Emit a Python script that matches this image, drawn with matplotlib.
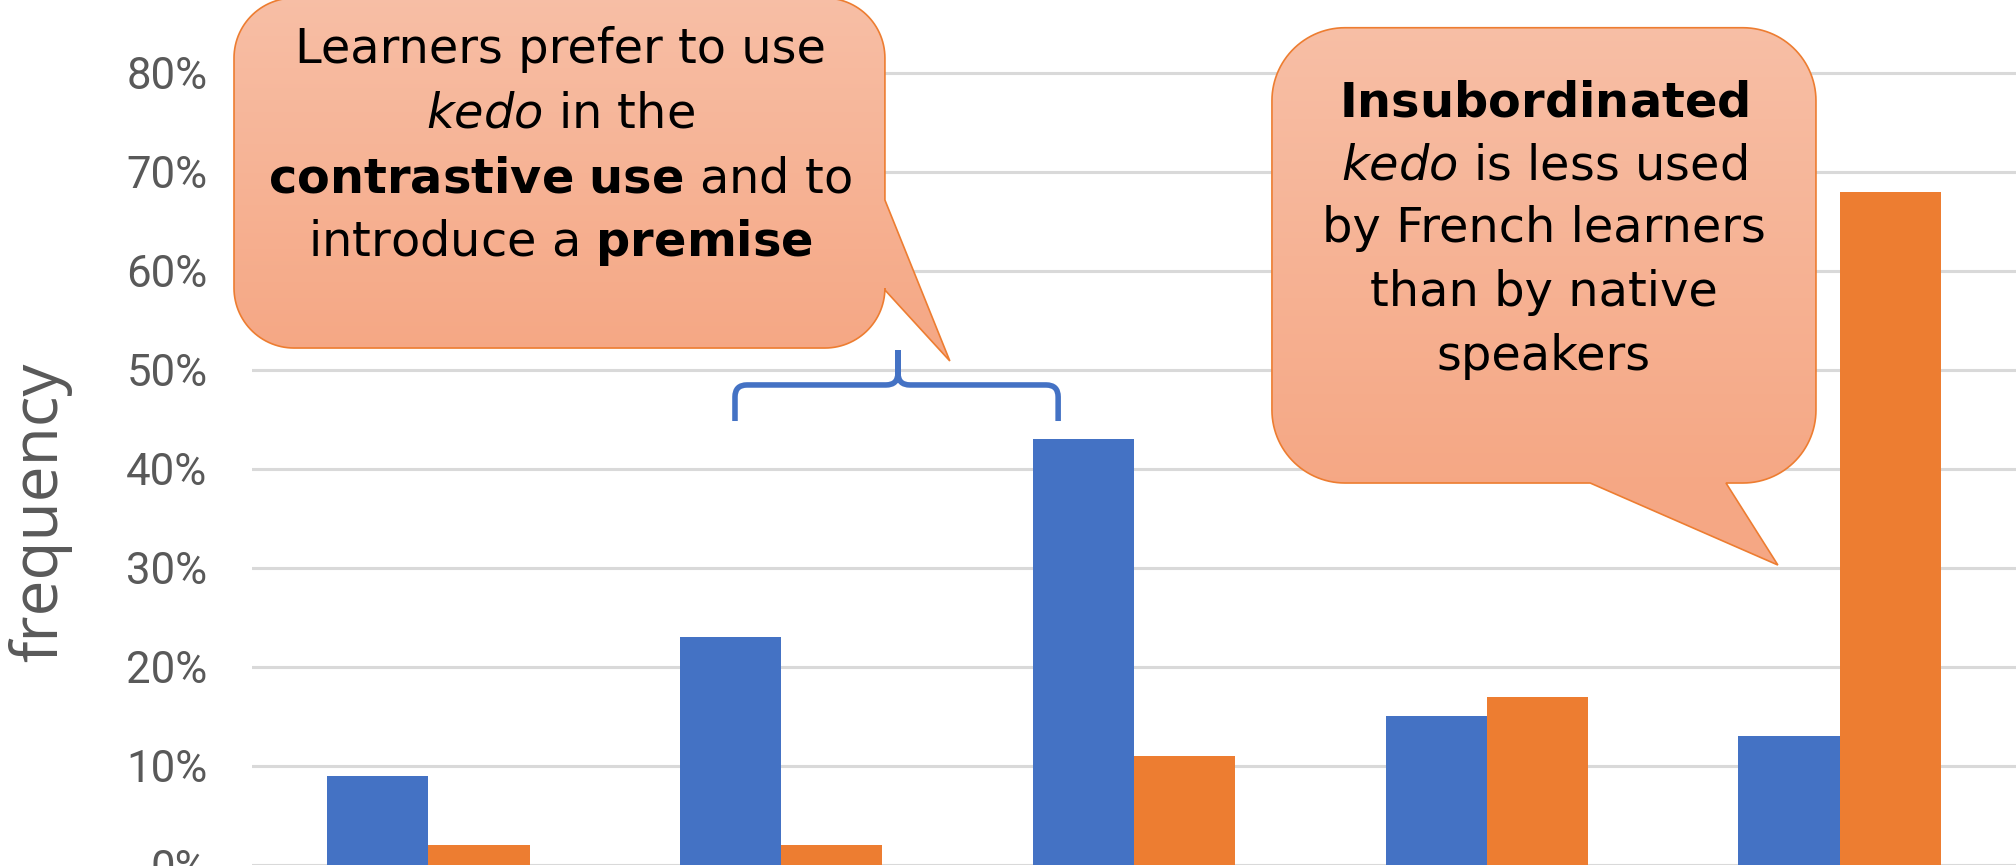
import numpy as np
import matplotlib
matplotlib.use("Agg")
import matplotlib.pyplot as plt
import matplotlib.colors as mcolors
from matplotlib.path import Path
from matplotlib.patches import Polygon, PathPatch
from matplotlib.collections import PolyCollection
from matplotlib.ticker import PercentFormatter

# ---------------- data ----------------
categories = ["use 1", "use 2", "use 3", "use 4", "use 5"]
learners = [0.09, 0.23, 0.43, 0.15, 0.13]   # blue series
natives = [0.02, 0.02, 0.11, 0.17, 0.68]    # orange series
yticks = [0.0, 0.1, 0.2, 0.3, 0.4, 0.5, 0.6, 0.7, 0.8]

callout1_lines = [
    "Learners prefer to use",
    r"$\mathit{kedo}$ in the",
    r"$\mathbf{contrastive}$ $\mathbf{use}$ and to",
    r"introduce a $\mathbf{premise}$",
]
callout2_lines = [
    r"$\mathbf{Insubordinated}$",
    r"$\mathit{kedo}$ is less used",
    "by French learners",
    "than by native",
    "speakers",
]

# ---------------- style ----------------
plt.rcParams["font.family"] = ["DejaVu Sans"]
plt.rcParams["mathtext.fontset"] = "custom"
plt.rcParams["mathtext.rm"] = "DejaVu Sans"
plt.rcParams["mathtext.it"] = "DejaVu Sans:italic"
plt.rcParams["mathtext.bf"] = "DejaVu Sans:bold"

BLUE = "#4472C4"
ORANGE = "#ED7D31"
GRID = "#D9D9D9"
GRAY = "#595959"
FILL_TOP = "#F7BEA5"
FILL_BOT = "#F5A784"

W, H = 2016, 866
fig = plt.figure(figsize=(W / 100, H / 100), dpi=100)
ax = fig.add_axes([252 / W, 1 / H, 1 - 252 / W, 865 / H])

x = np.arange(len(categories))
bw = 0.287
ax.bar(x - bw / 2, learners, bw, color=BLUE, zorder=2, label="French learners")
ax.bar(x + bw / 2, natives, bw, color=ORANGE, zorder=2, label="Native speakers")

ax.set_xlim(-0.5, len(categories) - 0.5)
ax.set_ylim(0, 0.8734)
ax.set_yticks(yticks)
ax.yaxis.set_major_formatter(PercentFormatter(1.0, decimals=0))
ax.set_xticks(x)
ax.set_xticklabels([])
ax.yaxis.grid(True, color=GRID, lw=2.2)
ax.set_axisbelow(True)
for s in ax.spines.values():
    s.set_visible(False)
ax.tick_params(axis="y", length=0, pad=32, labelsize=31.5, labelcolor=GRAY)
ax.tick_params(axis="x", length=0, labelbottom=False)
for lab in ax.get_yticklabels():
    lab.set_fontfamily("Roboto")

ax.set_ylabel("frequency", fontsize=46, color=GRAY, fontfamily="Open Sans", va="center")
ax.yaxis.set_label_coords(-0.1202, 0.408)


# ---------------- callouts ----------------
def callout(x0, x1, y0, y1, rx, ry, side, tail):
    n = 30

    def arc(cx, cy, a0, a1):
        th = np.radians(np.linspace(a0, a1, n))
        return np.column_stack([cx + rx * np.cos(th), cy + ry * np.sin(th)])

    parts = [arc(x0 + rx, y1 - ry, 180, 90), arc(x1 - rx, y1 - ry, 90, 0)]
    if side == "right":
        parts.append(np.array(tail))
    parts.append(arc(x1 - rx, y0 + ry, 0, -90))
    if side == "bottom":
        parts.append(np.array(tail))
    parts.append(arc(x0 + rx, y0 + ry, -90, -180))
    verts = np.vstack(parts)

    poly = Polygon(verts, closed=True, facecolor="none", edgecolor=ORANGE,
                   lw=1.2, zorder=6, clip_on=False)
    ax.add_patch(poly)

    xmin, xmax = verts[:, 0].min() - 0.05, verts[:, 0].max() + 0.05
    ymin, ymax = verts[:, 1].min(), verts[:, 1].max()
    ns = 90
    ed = np.linspace(ymin, ymax, ns + 1)
    step = (ymax - ymin) / ns
    ct = np.array(mcolors.to_rgb(FILL_TOP))
    cb = np.array(mcolors.to_rgb(FILL_BOT))
    strips, cols = [], []
    for i in range(ns):
        ya, yb = ed[i] - step * 0.3, ed[i + 1] + step * 0.3
        strips.append([(xmin, ya), (xmax, ya), (xmax, yb), (xmin, yb)])
        t = np.clip((0.5 * (ed[i] + ed[i + 1]) - y0) / (y1 - y0), 0, 1)
        cols.append(cb + (ct - cb) * t)
    pc = PolyCollection(strips, facecolors=cols, edgecolors="none",
                        linewidths=0, antialiaseds=False, zorder=5)
    ax.add_collection(pc, autolim=False)
    pc.set_clip_path(poly)
    pc.set_clip_box(None)


PX = 352.8   # px per category unit
PY = 990.4   # px per 1.0 on y

# callout 1 (tail on right side, pointing to brace)
callout(-0.551, 1.294, 0.522, 0.8754, 60 / PX, 60 / PY, "right",
        [(1.294, 0.6714), (1.478, 0.5089), (1.294, 0.5806)])
# callout 2 (tail at bottom, pointing to the last group)
callout(2.391, 3.933, 0.3857, 0.8454, 73 / PX, 73 / PY, "bottom",
        [(3.678, 0.3857), (3.825, 0.3029), (3.293, 0.3857)])

TXT = 34.5
for s, yb in zip(callout1_lines, [0.8098, 0.7447, 0.6788, 0.6149]):
    ax.text(0.373, yb, s, ha="center", va="baseline", fontsize=TXT,
            color="black", zorder=7, clip_on=False)
for s, yb in zip(callout2_lines, [0.7555, 0.6922, 0.6286, 0.5644, 0.4998]):
    ax.text(3.162, yb, s, ha="center", va="baseline", fontsize=TXT,
            color="black", zorder=7, clip_on=False)

# ---------------- brace ----------------
bx0, bx1, bxm = 0.869, 1.785, 1.331
by_end, by_bar, by_tip = 0.4483, 0.4847, 0.520
cx, cy = 12 / PX, 12 / PY
M, L, C = Path.MOVETO, Path.LINETO, Path.CURVE3
bverts = [(bx0, by_end), (bx0, by_bar - cy), (bx0, by_bar), (bx0 + cx, by_bar),
          (bxm - cx, by_bar), (bxm, by_bar), (bxm, by_bar + cy), (bxm, by_tip),
          (bxm, by_tip), (bxm, by_bar + cy), (bxm, by_bar), (bxm + cx, by_bar),
          (bx1 - cx, by_bar), (bx1, by_bar), (bx1, by_bar - cy), (bx1, by_end)]
bcodes = [M, L, C, C, L, C, C, L, M, L, C, C, L, C, C, L]
ax.add_patch(PathPatch(Path(bverts, bcodes), facecolor="none", edgecolor=BLUE,
                       lw=4, zorder=4, capstyle="butt", joinstyle="round"))

fig.savefig("out.png", dpi=100)
